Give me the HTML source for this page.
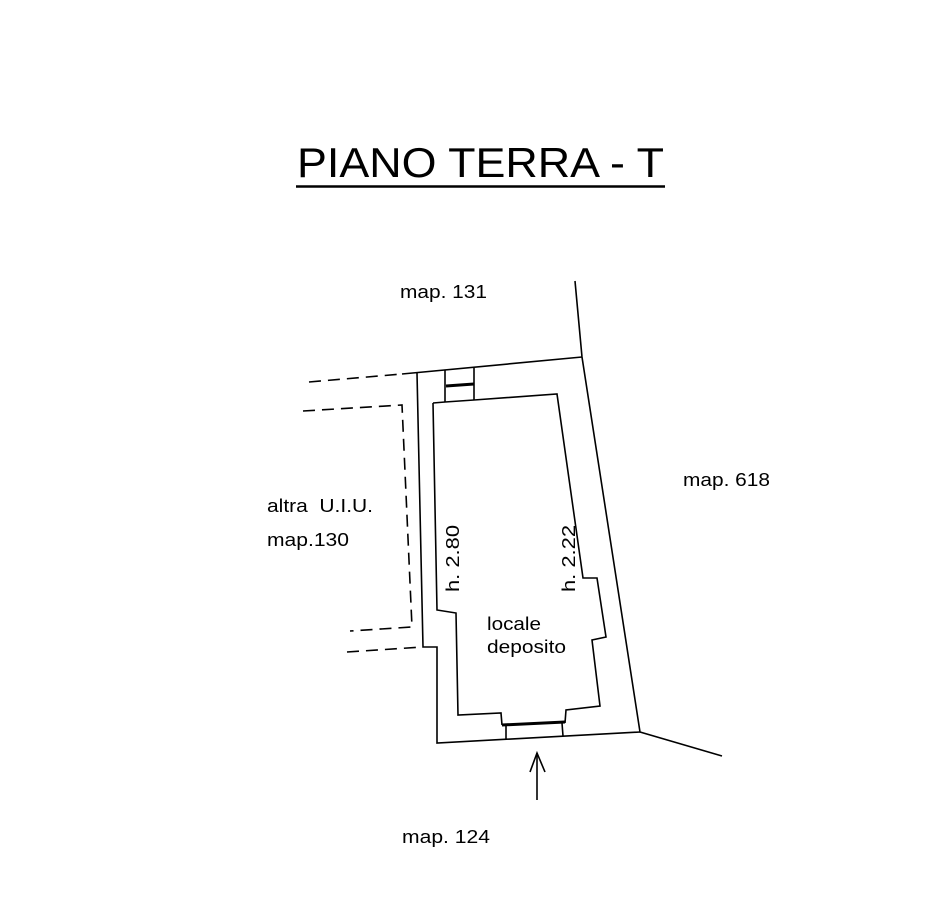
<!DOCTYPE html>
<html><head><meta charset="utf-8"><style>html,body{margin:0;padding:0;background:#fff}svg{display:block}</style></head>
<body>
<svg width="937" height="907" viewBox="0 0 937 907" xmlns="http://www.w3.org/2000/svg" font-family="Liberation Sans, sans-serif">
<rect width="937" height="907" fill="#fff"/>
<text x="297" y="177" font-size="42" textLength="367" lengthAdjust="spacingAndGlyphs">PIANO TERRA - T</text>
<line x1="296" y1="186.5" x2="665" y2="186.5" stroke="#000" stroke-width="2.5"/>
<g fill="none" stroke="#000" stroke-width="1.6">
<polyline points="575,281 582,357 640,732 722,756"/>
<polyline points="402,374 582,357"/>
<polyline points="417,373 423,647 437,647 437,743 640,732"/>
<polyline points="433,403 445,402"/>
<polyline points="474,400 557,394 583,578 597,578 606,637 592,640 600,706 566,710 565,723"/>
<polyline points="502,725 501,713 458,715 456,613 437,610 435,507 433,403"/>
<line x1="445" y1="370" x2="445" y2="402"/>
<line x1="474" y1="368" x2="474" y2="400"/>
<line x1="445" y1="402" x2="474" y2="400"/>
<line x1="506" y1="726" x2="506" y2="740"/>
<line x1="562" y1="723" x2="563" y2="736"/>
<line x1="537" y1="800" x2="537" y2="753"/>
<polyline points="530,772 537,753 545,772"/>
</g>
<line x1="446" y1="386" x2="474" y2="384" stroke="#000" stroke-width="3"/>
<line x1="502" y1="725" x2="565" y2="722" stroke="#000" stroke-width="3"/>
<g fill="none" stroke="#000" stroke-width="1.6" stroke-dasharray="12,7">
<polyline points="309,382 402,374"/>
<polyline points="303,411 402,405 412,627 350,631"/>
<polyline points="347,652 423,647"/>
</g>
<g font-size="18" fill="#000" lengthAdjust="spacingAndGlyphs">
<text x="400" y="298" textLength="87" lengthAdjust="spacingAndGlyphs">map. 131</text>
<text x="683" y="486" textLength="87" lengthAdjust="spacingAndGlyphs">map. 618</text>
<text x="267" y="512" textLength="106" lengthAdjust="spacingAndGlyphs">altra&#160; U.I.U.</text>
<text x="267" y="546" textLength="82" lengthAdjust="spacingAndGlyphs">map.130</text>
<text x="487" y="630" textLength="54" lengthAdjust="spacingAndGlyphs">locale</text>
<text x="487" y="653" textLength="79" lengthAdjust="spacingAndGlyphs">deposito</text>
<text x="402" y="843" textLength="88" lengthAdjust="spacingAndGlyphs">map. 124</text>
<text transform="translate(459,592) rotate(-90)" textLength="67" lengthAdjust="spacingAndGlyphs">h. 2.80</text>
<text transform="translate(575,592) rotate(-90)" textLength="67" lengthAdjust="spacingAndGlyphs">h. 2.22</text>
</g>
</svg>
</body></html>
